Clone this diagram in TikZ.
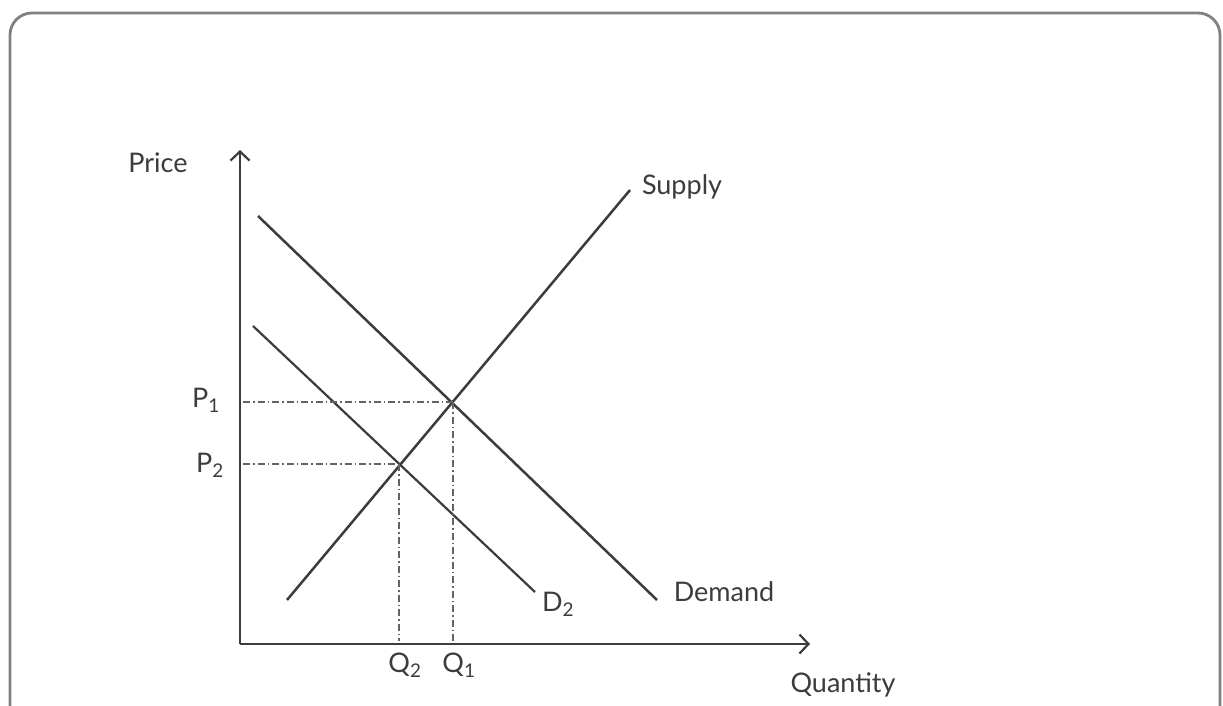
\documentclass[tikz,border=0pt]{standalone}
\usepackage{fontspec}
\setmainfont{Lato}
\usetikzlibrary{arrows.meta}
\definecolor{ink}{HTML}{3C3C3C}
\definecolor{framec}{HTML}{808080}
\tikzset{
  frameline/.style={draw=framec, line width=2.8pt, rounded corners=22pt},
  axisline/.style={draw=ink, line width=2.6pt, -{Straight Barb[length=9pt,width=19pt,line width=2.2pt]}},
  curve/.style={draw=ink, line width=2.5pt},
  guide/.style={draw=ink!80, line width=1.1pt, dash pattern=on 7pt off 3pt on 1.5pt off 3pt},
  lbl/.style={text=ink, font=\fontsize{27}{29}\selectfont, inner sep=1pt},
}
\begin{document}
\begin{tikzpicture}[x=1pt,y=-1pt]
\useasboundingbox (0,0) rectangle (1223,706);
\fill[white] (0,0) rectangle (1223,706);
% frame
\coordinate (fbl) at (10,720);
\coordinate (ftl) at (10,13);
\coordinate (ftr) at (1220,13);
\coordinate (fbr) at (1220,720);
\draw[frameline] (fbl) -- (ftl) -- (ftr) -- (fbr);
% axes
\coordinate (O) at (240,644);
\coordinate (ytop) at (240,150);
\coordinate (xend) at (810,644);
\draw[axisline] (O) -- (ytop);
\draw[axisline] (O) -- (xend);
% curves
\coordinate (dA) at (258,216);
\coordinate (dB) at (657,600);
\coordinate (sA) at (287,600);
\coordinate (sB) at (630,190);
\coordinate (d2A) at (253,326);
\coordinate (d2B) at (535,592);
\draw[curve] (dA) -- (dB);
\draw[curve] (sA) -- (sB);
\draw[curve, line width=2.2pt] (d2A) -- (d2B);
% equilibrium points
\coordinate (E1) at (453,402);
\coordinate (E2) at (399,464);
\coordinate (p1ax) at (243,402);
\coordinate (p2ax) at (243,464);
\coordinate (q1ax) at (456,641);
\coordinate (q2ax) at (401,641);
\draw[guide] (p1ax) -- (E1);
\draw[guide] (E1) -- (E1 |- q1ax);
\draw[guide] (p2ax) -- (E2);
\draw[guide] (E2) -- (E2 |- q2ax);
% labels
\node[lbl] (price) at (158,163) {Price};
\node[lbl] (supply) at (682,187) {Supply};
\node[lbl] (demand) at (724,592) {Demand};
\node[lbl] (d2) at (558,604) {D\textsubscript{2}};
\node[lbl] (p1) at (206,400) {P\textsubscript{1}};
\node[lbl] (p2) at (210,465) {P\textsubscript{2}};
\node[lbl] (q2) at (405,665) {Q\textsubscript{2}};
\node[lbl] (q1) at (459,665) {Q\textsubscript{1}};
\node[lbl] (qty) at (843,685) {Quantity};
\end{tikzpicture}
\end{document}
